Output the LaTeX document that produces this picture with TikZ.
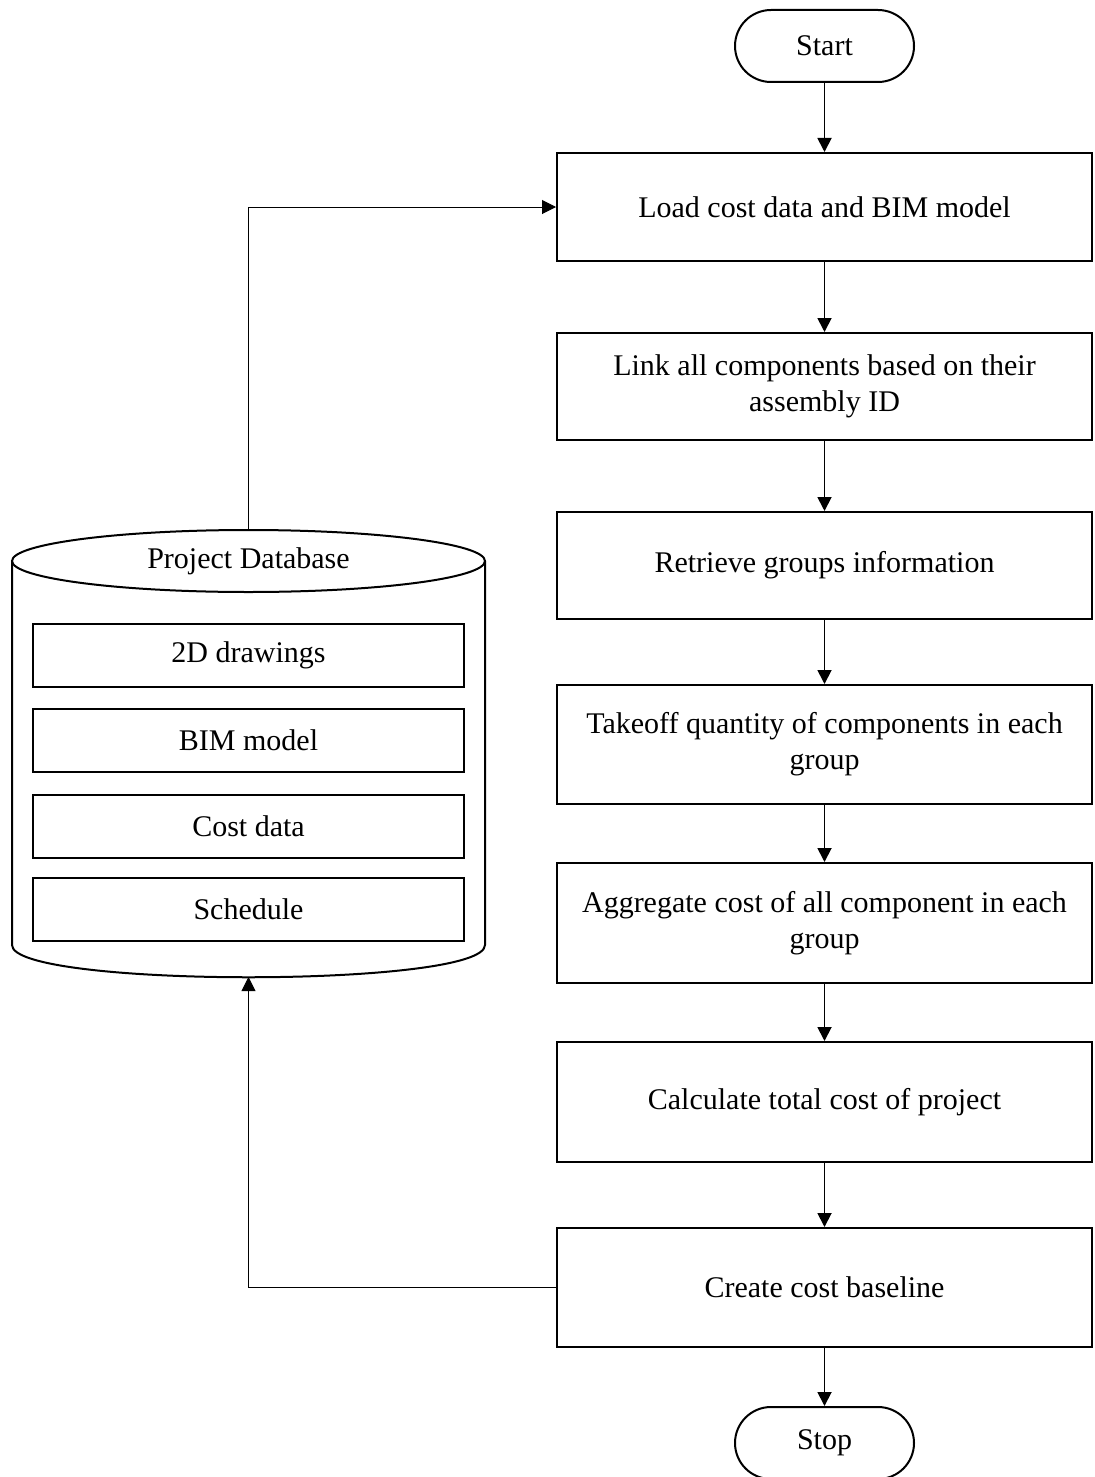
\documentclass[tikz,border=0pt]{standalone}
\usepackage{fontspec}
\setmainfont{Liberation Serif}
\usetikzlibrary{arrows.meta}
\begin{document}
\begin{tikzpicture}[x=0.5pt,y=-0.5pt,
  font=\fontsize{15pt}{18pt}\selectfont,
  stepbox/.style={draw, line width=1pt, minimum width=267.5pt, align=center, inner sep=0pt},
  term/.style={draw, line width=1pt, minimum width=89.5pt, minimum height=36pt, rounded corners=18pt, inner sep=0pt},
  dbitem/.style={draw, line width=1pt, minimum width=215.5pt, minimum height=31.5pt, inner sep=0pt},
  flow/.style={line width=0.9pt, -{Triangle[length=7pt,width=7pt]}},
  feed/.style={line width=0.5pt, -{Triangle[length=7pt,width=7pt]}}
]
\useasboundingbox (0,0) rectangle (1095,1477);

% main process column
\node[term] (start) at (824.5,46) {Start};
\node[stepbox, minimum height=54pt] (b1) at (824.5,207) {Load cost data and BIM model};
\node[stepbox, minimum height=53.5pt] (b2) at (824.5,386.5) {Link all components based on their\\assembly ID};
\node[stepbox, minimum height=53.5pt] (b3) at (824.5,565.5) {Retrieve groups information};
\node[stepbox, minimum height=59.5pt] (b4) at (824.5,744.5) {Takeoff quantity of components in each\\group};
\node[stepbox, minimum height=60pt] (b5) at (824.5,923) {Aggregate cost of all component in each\\group};
\node[stepbox, minimum height=60pt] (b6) at (824.5,1102) {Calculate total cost of project};
\node[stepbox, minimum height=59.5pt] (b7) at (824.5,1287.5) {Create cost baseline};
\node[term] (stop) at (824.5,1443) {Stop};

\draw[flow] (start) -- (b1);
\draw[flow] (b1) -- (b2);
\draw[flow] (b2) -- (b3);
\draw[flow] (b3) -- (b4);
\draw[flow] (b4) -- (b5);
\draw[flow] (b5) -- (b6);
\draw[flow] (b6) -- (b7);
\draw[flow] (b7) -- (stop);

% project database cylinder
\draw[line width=1pt] (12,561) -- (12,945) .. controls (12,988) and (485,988) .. (485,945) -- (485,561);
\draw[line width=1pt, fill=white] (248.5,561) ellipse [x radius=118.25pt, y radius=15.5pt];
\node (db) at (248.5,561) {Project Database};
\coordinate (dbtop) at (248.5,530);
\coordinate (dbbot) at (248.5,977);

\node[dbitem] (d1) at (248.5,655.5) {2D drawings};
\node[dbitem] (d2) at (248.5,740.5) {BIM model};
\node[dbitem] (d3) at (248.5,826) {Cost data};
\node[dbitem] (d4) at (248.5,909.5) {Schedule};

% links between database and process
\draw[feed] (dbtop) |- (b1.west);
\draw[feed] (b7.west) -| (dbbot);
\end{tikzpicture}
\end{document}
